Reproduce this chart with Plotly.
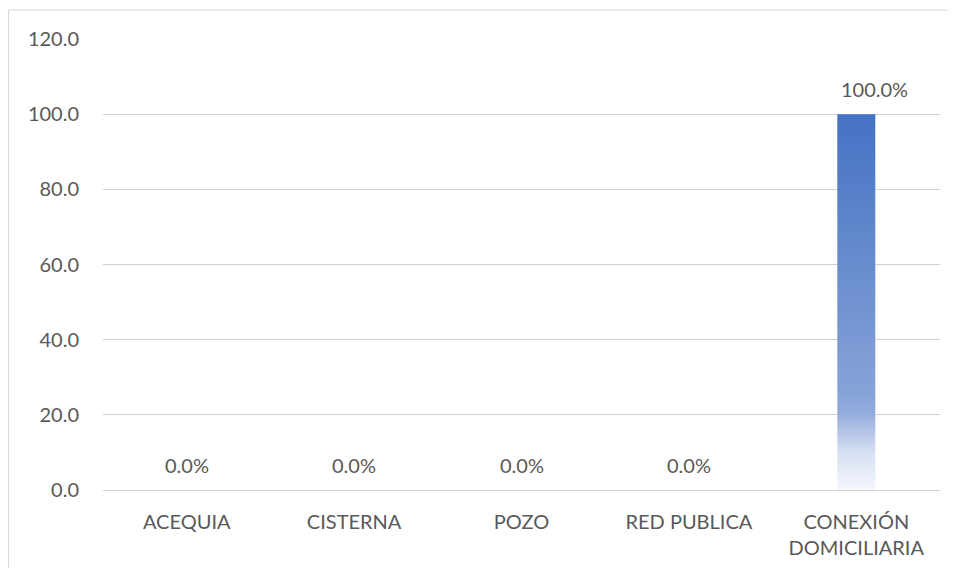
import plotly.graph_objects as go

categories = ["ACEQUIA", "CISTERNA", "POZO", "RED PUBLICA", "CONEXIÓN<br>DOMICILIARIA"]
values = [0.0, 0.0, 0.0, 0.0, 100.0]
y_ticks = [0, 20, 40, 60, 80, 100, 120]

idx = list(range(len(categories)))
bar_w = 0.227
text_color = "#595959"
font_family = "Lato, Liberation Sans, sans-serif"
fs = 20

fig = go.Figure()

# transparent bars (structure) + gradient-filled polygons for each nonzero bar
fig.add_trace(go.Bar(x=idx, y=values, width=bar_w, marker=dict(color="rgba(0,0,0,0)", line=dict(width=0)),
                     hoverinfo="skip", showlegend=False))

for i, v in zip(idx, values):
    if v <= 0:
        continue
    fig.add_trace(go.Scatter(
        x=[i - bar_w / 2, i + bar_w / 2, i + bar_w / 2, i - bar_w / 2, i - bar_w / 2],
        y=[0, 0, v, v, 0],
        mode="lines", line=dict(width=0), fill="toself",
        fillgradient=dict(type="vertical", start=0, stop=v,
                          colorscale=[[0, "rgb(244,247,252)"], [0.1, "rgb(214,224,242)"],
                                      [0.2, "rgb(150,173,221)"], [0.25, "rgb(136,163,216)"],
                                      [0.6, "rgb(104,140,206)"], [1, "rgb(68,114,196)"]]),
        hoverinfo="skip", showlegend=False))

vmax = max(values)
for i, v in zip(idx, values):
    fig.add_annotation(x=i, y=v, text=f"{v:.1f}%", showarrow=False, yshift=25,
                       xshift=18 if v == vmax and v > 0 else 0,
                       font=dict(family=font_family, size=fs, color=text_color))

fig.add_shape(type="rect", xref="paper", yref="paper", x0=-0.1129, x1=1.05, y0=-0.3, y1=1.0643,
              line=dict(color="#D9D9D9", width=1), fillcolor="rgba(0,0,0,0)", layer="below")

fig.update_layout(
    width=940, height=560,
    margin=dict(l=95, r=8, t=31, b=78),
    paper_bgcolor="white", plot_bgcolor="white",
    font=dict(family=font_family, size=fs, color=text_color),
    showlegend=False,
    xaxis=dict(range=[-0.5, 4.5], tickmode="array", tickvals=idx, ticktext=categories,
               showgrid=False, zeroline=False, showline=False, ticks="", ticklabelstandoff=18,
               tickfont=dict(family=font_family, size=fs, color=text_color), fixedrange=True),
    yaxis=dict(range=[0, 120], tickmode="array", tickvals=y_ticks,
               ticktext=[f"{t:.1f}" for t in y_ticks],
               showgrid=True, gridcolor="#D0D0D0", gridwidth=1,
               zeroline=True, zerolinecolor="#D0D0D0", zerolinewidth=1,
               showline=False, ticks="", ticklabelstandoff=23,
               tickfont=dict(family=font_family, size=fs, color=text_color), fixedrange=True),
)

fig.write_html("out.html")
